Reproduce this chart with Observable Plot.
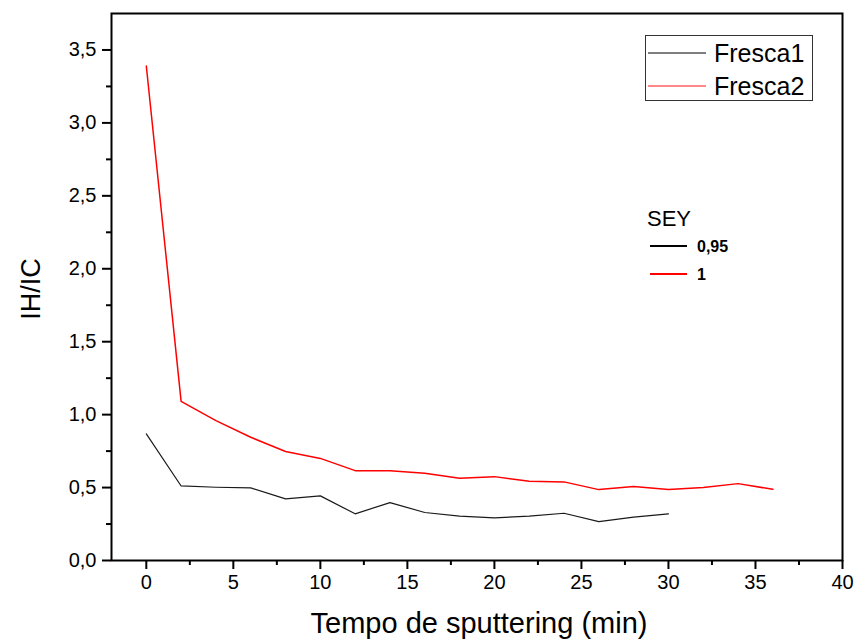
<!DOCTYPE html>
<html>
<head>
<meta charset="utf-8">
<script src="https://cdn.jsdelivr.net/npm/d3@7"></script>
<script src="https://cdn.jsdelivr.net/npm/@observablehq/plot@0.6"></script>
<style>
  body { margin: 0; background: #fff; }
  #wrap { position: relative; width: 857px; height: 641px; font-family: "Liberation Sans", Arial, sans-serif; }
  #overlay { position: absolute; left: 0; top: 0; pointer-events: none; }
</style>
</head>
<body>
<div id="wrap"></div>
<script>
// ---- data ----
const times1 = [0, 2, 4, 6, 8, 10, 12, 14, 16, 18, 20, 22, 24, 26, 28, 30];
const fresca1 = [0.868, 0.511, 0.502, 0.498, 0.422, 0.443, 0.32, 0.397, 0.329, 0.304, 0.292, 0.304, 0.324, 0.267, 0.297, 0.32];
const times2 = [0, 2, 4, 6, 8, 10, 12, 14, 16, 18, 20, 22, 24, 26, 28, 30, 32, 34, 36];
const fresca2 = [3.39, 1.091, 0.959, 0.845, 0.747, 0.70, 0.616, 0.616, 0.598, 0.564, 0.575, 0.543, 0.539, 0.486, 0.507, 0.486, 0.50, 0.527, 0.488];
const seriesNames = ["Fresca1", "Fresca2"];
const seyLabels = ["0,95", "1"];
const xTicks = [0, 5, 10, 15, 20, 25, 30, 35, 40];
const xMinorTicks = [2.5, 7.5, 12.5, 17.5, 22.5, 27.5, 32.5, 37.5];
const yTicks = [0, 0.5, 1.0, 1.5, 2.0, 2.5, 3.0, 3.5];
const yMinorTicks = [0.25, 0.75, 1.25, 1.75, 2.25, 2.75, 3.25];
const xLabel = "Tempo de sputtering (min)";
const yLabel = "IH/IC";
const seyTitle = "SEY";

const rows1 = times1.map((t, i) => ({t, v: fresca1[i]}));
const rows2 = times2.map((t, i) => ({t, v: fresca2[i]}));
const fmt = d => d.toFixed(1).replace(".", ",");
const FONT = '"Liberation Sans", Arial, sans-serif';

const W = 857, H = 641;
const mL = 111, mR = 15, mT = 13, mB = 81;

const chart = Plot.plot({
  width: W, height: H,
  marginLeft: mL, marginRight: mR, marginTop: mT, marginBottom: mB,
  style: {fontFamily: FONT, fontSize: "20px", color: "#000", background: "#fff"},
  x: {domain: [-2, 40]},
  y: {domain: [0, 3.75]},
  marks: [
    Plot.axisX(xTicks, {tickSize: 9, tickPadding: 5, strokeWidth: 2, tickFormat: d => String(d), label: null, fontSize: 20}),
    Plot.axisX(xMinorTicks, {tickSize: 5, strokeWidth: 2, text: null, label: null}),
    Plot.axisY(yTicks, {tickSize: 9, tickPadding: 6, strokeWidth: 2, tickFormat: fmt, label: null, fontSize: 20}),
    Plot.axisY(yMinorTicks, {tickSize: 5, strokeWidth: 2, text: null, label: null}),
    Plot.line(rows1, {x: "t", y: "v", stroke: "#1a1a1a", strokeWidth: 1.2}),
    Plot.line(rows2, {x: "t", y: "v", stroke: "#ff0000", strokeWidth: 1.5}),
    Plot.frame({stroke: "#000", strokeWidth: 2})
  ]
});
const wrap = document.getElementById("wrap");
wrap.appendChild(chart);

// ---- overlay: axis titles and legends ----
const svg = d3.select(wrap).append("svg")
  .attr("id", "overlay").attr("width", W).attr("height", H)
  .style("font-family", FONT);

svg.append("text").attr("x", 479).attr("y", 633)
  .attr("text-anchor", "middle").attr("font-size", 29).attr("fill", "#000").text(xLabel);
svg.append("text").attr("transform", `translate(40,289) rotate(-90)`)
  .attr("text-anchor", "middle").attr("font-size", 27).attr("fill", "#000").text(yLabel);

// legend 1 (boxed)
svg.append("rect").attr("x", 645.5).attr("y", 35.5).attr("width", 167).attr("height", 65)
  .attr("fill", "#fff").attr("stroke", "#333").attr("stroke-width", 1);
const legColors = ["#555", "#ff6060"];
seriesNames.forEach((name, i) => {
  const y = 53 + i * 33;
  svg.append("line").attr("x1", 648).attr("x2", 706).attr("y1", y).attr("y2", y)
    .attr("stroke", legColors[i]).attr("stroke-width", 1.5);
  svg.append("text").attr("x", 714).attr("y", y + 9).attr("font-size", 25).attr("fill", "#000").text(name);
});

// legend 2 (SEY)
svg.append("text").attr("x", 647).attr("y", 226).attr("font-size", 22).attr("fill", "#000").text(seyTitle);
const seyColors = ["#000", "#ff0000"];
seyLabels.forEach((lab, i) => {
  const y = 246 + i * 28;
  svg.append("line").attr("x1", 650).attr("x2", 687).attr("y1", y).attr("y2", y)
    .attr("stroke", seyColors[i]).attr("stroke-width", 2);
  svg.append("text").attr("x", 697).attr("y", y + 6).attr("font-size", 16).attr("font-weight", "bold")
    .attr("fill", "#000").text(lab);
});
</script>
</body>
</html>
